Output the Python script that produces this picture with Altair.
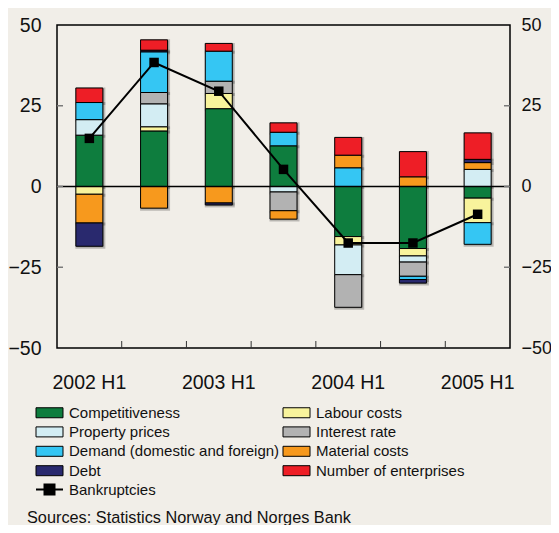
import altair as alt
import pandas as pd

PERIODS = ["2002 H1", "2002 H2", "2003 H1", "2003 H2", "2004 H1", "2004 H2", "2005 H1"]
COMPONENTS = ["Competitiveness", "Labour costs", "Property prices", "Interest rate",
              "Demand (domestic and foreign)", "Material costs", "Debt", "Number of enterprises"]
COLORS = ["#0E7D3E", "#F8F39C", "#D3EDF3", "#B2B2B2", "#35C6F3", "#F7991D", "#29296E", "#EE1E26"]

competitiveness = [15.9, 17.2, 24.1, 12.6, -15.5, -19.2, -3.6]
labour_costs = [-2.4, 1.3, 4.7, 0.0, -2.6, -2.3, -7.6]
property_prices = [4.8, 7.1, 0.0, -1.7, -9.2, -1.9, 5.3]
interest_rate = [0.0, 3.5, 3.8, -5.8, -10.1, -4.4, 0.0]
demand = [5.3, 12.6, 9.3, 4.2, 5.8, -1.0, -6.7]
material_costs = [-8.9, -6.7, -5.1, -2.6, 3.9, 3.0, 2.1]
debt = [-7.2, 0.5, -0.6, 0.0, 0.0, -1.1, 1.0]
number_of_enterprises = [4.5, 3.2, 2.4, 2.9, 5.5, 7.8, 8.2]
bankruptcies = [14.9, 38.4, 29.5, 5.3, -17.5, -17.5, -8.6]

Y_TICKS = [-50, -25, 0, 25, 50]
INNER_TICKS = [-25, 0, 25]
SOURCE = "Sources: Statistics Norway and Norges Bank"

FONT = "Liberation Sans, Arial, sans-serif"
TXT = "#111111"
SERIES = [competitiveness, labour_costs, property_prices, interest_rate, demand,
          material_costs, debt, number_of_enterprises]

rows = []
for k, (name, vals) in enumerate(zip(COMPONENTS, SERIES)):
    for p, v in zip(PERIODS, vals):
        if v != 0:
            rows.append({"period": p, "component": name, "value": v, "k": k})
df = pd.DataFrame(rows)
bdf = pd.DataFrame({"period": PERIODS, "b": bankruptcies, "series": "Bankruptcies"})
tick_df = pd.DataFrame({"v": INNER_TICKS})
xt_df = pd.DataFrame({"period": PERIODS[1:]})

W, H = 453, 323
STEP = W / len(PERIODS)
xscale = alt.Scale(domain=PERIODS, paddingInner=0, paddingOuter=0)
yscale = alt.Scale(domain=[-50, 50], nice=False)

RECT = "M-2.7,-1L2.7,-1L2.7,1L-2.7,1Z"
LINESYM = "M-2.7,0L2.7,0M-1,-1L1,-1L1,1L-1,1Z"

xaxis = alt.Axis(labelExpr="indexof(datum.label, 'H1') >= 0 ? datum.label : ''",
                 ticks=False, domain=False, grid=False, labelAngle=0, labelFont=FONT,
                 labelFontSize=19.5, labelPadding=25, labelColor=TXT)
X = alt.X("period:N", sort=PERIODS, scale=xscale, axis=xaxis, title=None)

shadow = alt.Chart(df).mark_bar(size=27, stroke="#000000", strokeWidth=3, strokeOpacity=0.22,
                                fill="#000000", fillOpacity=0.2, xOffset=1, yOffset=1).encode(
    x=X,
    y=alt.Y("value:Q", stack="zero", scale=yscale, axis=None),
    detail="component:N",
    order=alt.Order("k:Q"),
)

bars = alt.Chart(df).mark_bar(size=27, stroke="black", strokeWidth=1).encode(
    x=X,
    y=alt.Y("value:Q", stack="zero", scale=yscale, title=None,
            axis=alt.Axis(orient="left", values=Y_TICKS, ticks=False, domain=False, grid=False,
                          labelFont=FONT, labelFontSize=19.5, labelPadding=16, labelColor=TXT)),
    fill=alt.Fill("component:N", sort=COMPONENTS,
                  scale=alt.Scale(domain=COMPONENTS, range=COLORS),
                  legend=alt.Legend(orient="none", legendX=-15, legendY=380, title=None, columns=2,
                                    direction="horizontal",
                                    symbolType=RECT, symbolSize=100, symbolStrokeColor="black",
                                    symbolStrokeWidth=1, symbolOpacity=1,
                                    labelFont=FONT, labelFontSize=15, labelColor=TXT,
                                    labelOffset=12, labelLimit=400, rowPadding=3.4, columnPadding=1)),
    order=alt.Order("k:Q"),
)

zero = alt.Chart(pd.DataFrame({"v": [0]})).mark_rule(color="black", strokeWidth=1.5).encode(
    y=alt.Y("v:Q", scale=yscale, axis=None))

lticks = alt.Chart(tick_df).mark_rule(color="#7a7a7a", strokeWidth=1.5).encode(
    y=alt.Y("v:Q", scale=yscale, axis=None), x=alt.value(0), x2=alt.value(6))
rticks = alt.Chart(tick_df).mark_rule(color="#7a7a7a", strokeWidth=1.5).encode(
    y=alt.Y("v:Q", scale=yscale, axis=None), x=alt.value(W - 6), x2=alt.value(W))
xticks = alt.Chart(xt_df).mark_rule(color="#333333", strokeWidth=1, xOffset=-STEP / 2).encode(
    x=X, y=alt.value(H), y2=alt.value(H - 7))

line = alt.Chart(bdf).mark_line(strokeWidth=2).encode(
    x=X,
    y=alt.Y("b:Q", scale=yscale, title=None,
            axis=alt.Axis(orient="right", values=Y_TICKS, ticks=False, domain=False, grid=False,
                          labelFont=FONT, labelFontSize=18, labelPadding=11, labelColor=TXT)),
    stroke=alt.Stroke("series:N", scale=alt.Scale(domain=["Bankruptcies"], range=["black"]),
                      legend=alt.Legend(orient="none", legendX=-15, legendY=457, title=None,
                                        symbolType=LINESYM, symbolSize=100, symbolFillColor="black",
                                        symbolStrokeWidth=2, labelFont=FONT, labelFontSize=15,
                                        labelColor=TXT, labelOffset=12)),
)
points = alt.Chart(bdf).mark_point(shape="square", filled=True, size=90, color="black", opacity=1).encode(
    x=X, y=alt.Y("b:Q", scale=yscale, axis=None))

src = alt.Chart(pd.DataFrame({"t": [SOURCE]})).mark_text(
    align="left", baseline="alphabetic", font=FONT, fontSize=16.3, color=TXT).encode(
    text="t:N", x=alt.value(-30), y=alt.value(498))

chart = alt.layer(shadow, bars, zero, lticks, rticks, xticks, line, points, src).resolve_scale(
    y="independent").properties(
    width=W, height=H,
    padding={"left": 49, "top": 17, "right": 41, "bottom": 177},
    autosize=alt.AutoSizeParams(type="none"),
).configure(background="#F1EEE8").configure_view(stroke="black", strokeWidth=1.5)

chart.save("out.html", embed_options={"renderer": "svg", "actions": False})
